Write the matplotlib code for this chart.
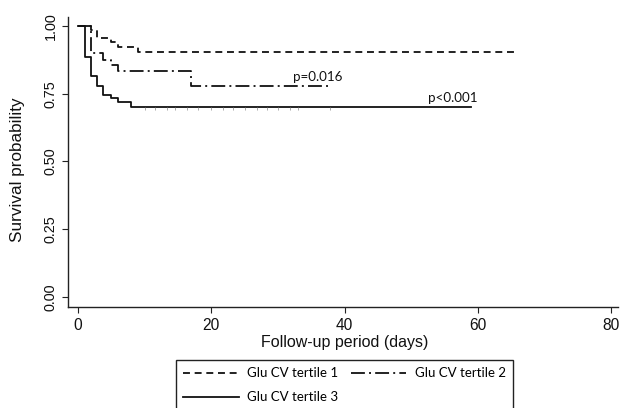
import matplotlib
matplotlib.use("Agg")
import matplotlib.pyplot as plt

# ---- data ----
t1_days = [0, 2, 2.8, 5, 6, 9, 66]
t1_surv = [1.0, 0.985, 0.955, 0.942, 0.924, 0.905, 0.905]

t2_days = [0, 2, 3.8, 5, 6, 17, 38]
t2_surv = [1.0, 0.899, 0.875, 0.856, 0.835, 0.779, 0.779]

t3_days = [0, 1, 2, 2.8, 3.8, 5, 6, 8, 59]
t3_surv = [1.0, 0.887, 0.815, 0.779, 0.745, 0.735, 0.72, 0.701, 0.701]

t3_censor_days = [10, 11.5, 13.3, 14.5, 16.3, 18, 20, 21.8, 23.3, 25, 26.8,
                  28.3, 30, 31.8, 33, 37.8]
t3_censor_surv = [0.701] * len(t3_censor_days)

labels = ["Glu CV tertile 1", "Glu CV tertile 2", "Glu CV tertile 3"]
p_texts = ["p=0.016", "p<0.001"]
p_pos = [(32.2, 0.813), (52.5, 0.733)]

xticks = [0, 20, 40, 60, 80]
yticks = [0.0, 0.25, 0.5, 0.75, 1.0]
yticklabels = ["0.00", "0.25", "0.50", "0.75", "1.00"]

# ---- figure ----
plt.rcParams['lines.scale_dashes'] = False
plt.rcParams['font.family'] = ['Liberation Sans', 'DejaVu Sans']
W, H = 620, 408
fig = plt.figure(figsize=(W / 100, H / 100), dpi=100)
ax = fig.add_axes([68 / W, 1 - 307 / H, (618 - 68) / W, (307 - 17) / H])

lw = 1.3
l1, = ax.plot(t1_days, t1_surv, drawstyle='steps-post', color='#111111', lw=lw,
              dashes=[5.0, 3.4])
l2, = ax.plot(t2_days, t2_surv, drawstyle='steps-post', color='#111111', lw=lw,
              dashes=[10.0, 3.0, 1.4, 3.0])
l3, = ax.plot(t3_days, t3_surv, drawstyle='steps-post', color='#111111', lw=lw)
ax.plot(t3_censor_days, t3_censor_surv, linestyle='none', marker=3,
        markersize=1.8, markeredgewidth=0.5, color='#888888')

for txt, (x, y) in zip(p_texts, p_pos):
    ax.text(x, y, txt, fontsize=9.6, family=['Lato', 'DejaVu Sans'],
            ha='left', va='center', color='#111111')

ax.set_xlim(-1.5, 81)
ax.set_ylim(-0.037, 1.033)
ax.set_xticks(xticks)
ax.set_yticks(yticks)
ax.set_yticklabels(yticklabels, rotation=90, va='center')
ax.tick_params(axis='both', direction='out', length=4.3, width=0.8,
               color='#222222', labelcolor='#111111')
ax.tick_params(axis='x', labelsize=11.2, pad=3.5)
ax.tick_params(axis='y', labelsize=10.4, pad=3)

for s in ['top', 'right']:
    ax.spines[s].set_visible(False)
for s in ['left', 'bottom']:
    ax.spines[s].set_linewidth(1.0)
    ax.spines[s].set_color('#222222')

ax.set_xlabel("Follow-up period (days)", fontsize=11.5, color='#111111')
ax.set_ylabel("Survival probability", fontsize=12.3, color='#111111')
ax.xaxis.set_label_coords((345 - 68) / 550, (307 - 342) / 290)
ax.xaxis.label.set_va('center')
ax.yaxis.set_label_coords((18 - 68) / 550, (307 - 170) / 290)
ax.yaxis.label.set_va('center')

leg = fig.legend([l1, l3, l2], [labels[0], labels[2], labels[1]], ncol=2,
                 loc='upper left', bbox_to_anchor=(176 / W, 1 - 360 / H),
                 bbox_transform=fig.transFigure, borderaxespad=0,
                 prop={'family': ['Lato', 'DejaVu Sans'], 'size': 9.5},
                 frameon=True, fancybox=False, edgecolor='#222222',
                 handlelength=4.2, handletextpad=0.65, columnspacing=0.95,
                 labelspacing=0.9, borderpad=0.55)
leg.get_frame().set_linewidth(1.0)
leg.get_frame().set_alpha(1)

fig.savefig("out.png", dpi=100)
